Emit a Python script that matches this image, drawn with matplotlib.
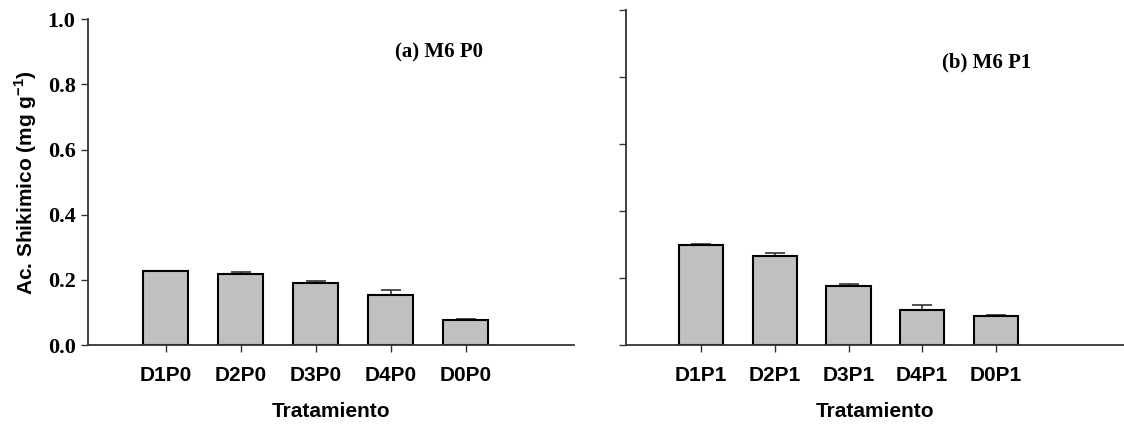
import numpy as np
import matplotlib
matplotlib.use('Agg')
import matplotlib.pyplot as plt

plt.rcParams['mathtext.fontset'] = 'custom'
plt.rcParams['mathtext.rm'] = 'Liberation Sans'
plt.rcParams['mathtext.bf'] = 'Liberation Sans:bold'

# Shikimic acid content per treatment, with standard error (upper bar only)
trat_p0 = ['D1P0', 'D2P0', 'D3P0', 'D4P0', 'D0P0']
mean_p0 = [0.227, 0.219, 0.190, 0.154, 0.078]
err_p0 = [0.001, 0.006, 0.007, 0.014, 0.001]

trat_p1 = ['D1P1', 'D2P1', 'D3P1', 'D4P1', 'D0P1']
mean_p1 = [0.300, 0.265, 0.177, 0.106, 0.087]
err_p1 = [0.001, 0.010, 0.006, 0.014, 0.003]

yticks = [0.0, 0.2, 0.4, 0.6, 0.8, 1.0]

fig = plt.figure(figsize=(11.24, 4.24), dpi=100)
ax1 = fig.add_axes([0.0783, 0.186, 0.432, 0.769])
ax2 = fig.add_axes([0.557, 0.186, 0.443, 0.790])

sans = 'Liberation Sans'
serif = 'Liberation Serif'
fill = '#c0c0c0'


def draw_panel(ax, labels, means, errs, xlim, tag, tag_xy, show_yticklabels):
    x = np.arange(len(labels))
    ax.bar(x, means, width=0.6, color=fill, edgecolor='black', linewidth=1.5, zorder=2)
    ax.errorbar(x, means, yerr=[np.zeros(len(errs)), errs], fmt='none',
                ecolor='#333333', elinewidth=1.2, capsize=7, capthick=1.2, zorder=1)
    ax.set_xlim(*xlim)
    ax.set_ylim(0, 1.0)
    ax.set_xticks(x)
    ax.set_xticklabels(labels, fontfamily=sans, fontweight='bold', fontsize=15)
    ax.set_yticks(yticks)
    if show_yticklabels:
        ax.set_yticklabels(['%.1f' % v for v in yticks], fontfamily=serif,
                           fontweight='bold', fontsize=16)
    else:
        ax.set_yticklabels([])
    for side in ['top', 'right']:
        ax.spines[side].set_visible(False)
    for side in ['left', 'bottom']:
        ax.spines[side].set_linewidth(1.3)
        ax.spines[side].set_color('#333333')
    ax.tick_params(axis='both', direction='out', length=5, width=1, color='#333333')
    ax.tick_params(axis='x', pad=10)
    ax.tick_params(axis='y', pad=4)
    ax.set_xlabel('Tratamiento', fontfamily=sans, fontweight='bold', fontsize=15, labelpad=12)
    ax.text(tag_xy[0], tag_xy[1], tag, transform=ax.transAxes, fontfamily=serif,
            fontweight='bold', fontsize=15, ha='left', va='center')


draw_panel(ax1, trat_p0, mean_p0, err_p0, (-1.04, 5.44), '(a) M6 P0', (0.633, 0.897), True)
draw_panel(ax2, trat_p1, mean_p1, err_p1, (-1.02, 5.74), '(b) M6 P1', (0.635, 0.845), False)

ax1.set_ylabel(r'Ac. Shikimico (mg g$^{\mathbf{-1}}$)', fontfamily=sans, fontweight='bold',
               fontsize=15, labelpad=6)

fig.savefig('out.png', dpi=100)
